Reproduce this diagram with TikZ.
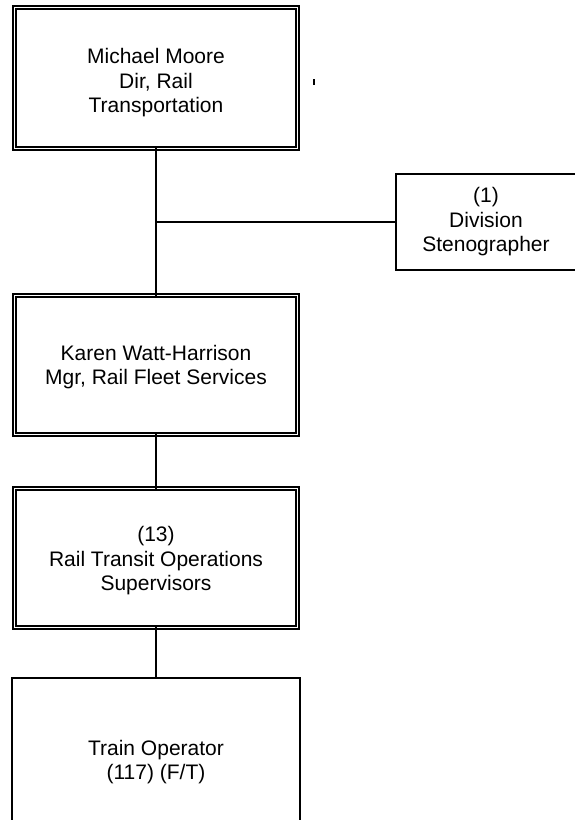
\documentclass[tikz,border=0pt]{standalone}
\usepackage{fontspec}
\setmainfont{Liberation Sans}
\begin{document}
\begin{tikzpicture}[x=1pt,y=-1pt,
  txt/.style={font=\fontsize{21}{24.5}\selectfont, align=center, inner sep=0pt, outer sep=0pt},
  dbox/.style={txt, draw, line width=1.8pt, double, double distance=1.5pt, minimum width=282.9pt},
  sbox/.style={txt, draw, line width=1.8pt},
  conn/.style={line width=1.9pt}]
\useasboundingbox (0,0) rectangle (574,820);
\node[dbox, minimum height=140.9pt] (dir) at (156,78) {\rule{0pt}{25pt}Michael Moore\\Dir, Rail\\Transportation};
\node[dbox, minimum height=138.9pt] (mgr) at (156,365) {\rule{0pt}{19pt}Karen Watt-Harrison\\Mgr, Rail Fleet Services};
\node[dbox, minimum height=138.9pt] (sup) at (156,558) {\rule{0pt}{21pt}(13)\\Rail Transit Operations\\Supervisors};
\node[sbox, minimum width=288pt, minimum height=168pt] (op) at (156,762) {Train Operator\\(117) (F/T)};
\node[sbox, minimum width=180pt, minimum height=96pt] (steno) at (486,222) {(1)\\Division\\Stenographer};
\coordinate (j) at (dir.south |- steno.west);
\draw[conn] (dir.south) -- (mgr.north);
\draw[conn] (j) -- (steno.west);
\draw[conn] (mgr.south) -- (sup.north);
\draw[conn] (sup.south) -- (op.north);
\fill (313,79) rectangle (315,85);
\end{tikzpicture}
\end{document}
